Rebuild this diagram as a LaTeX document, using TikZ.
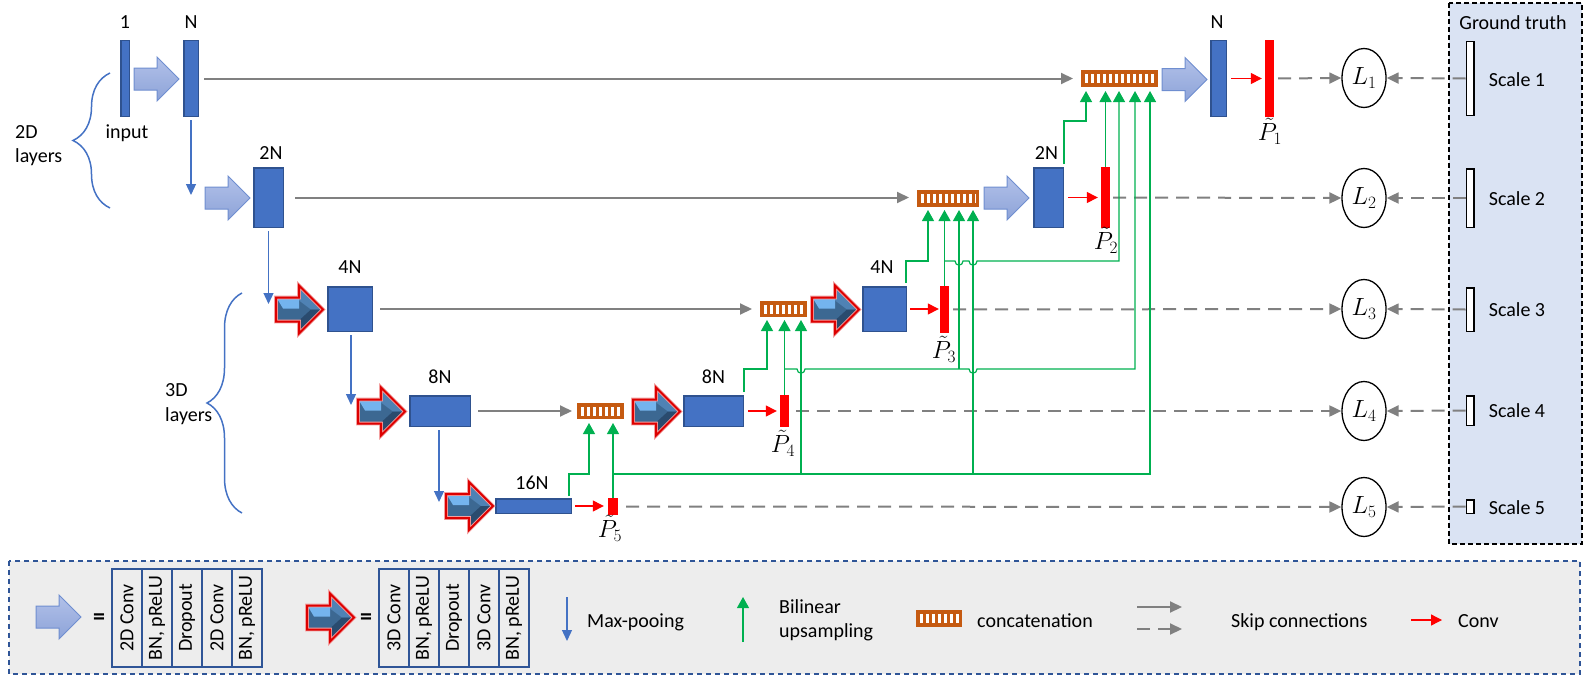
\documentclass[tikz,border=0pt]{standalone}
\usepackage{fontspec}
\setmainfont{Carlito}
\usetikzlibrary{arrows.meta,decorations.pathreplacing,calc,shapes.geometric}
\definecolor{boxblue}{HTML}{4472C4}
\definecolor{boxedge}{HTML}{2F528F}
\definecolor{gline}{HTML}{808080}
\definecolor{grn}{HTML}{00B050}
\definecolor{org}{HTML}{C55A11}
\definecolor{legbg}{HTML}{EDEDED}
\definecolor{legedge}{HTML}{2F5597}
\definecolor{gtbg}{HTML}{DAE3F3}
\definecolor{flattop}{HTML}{B2C1E9}
\definecolor{flatbot}{HTML}{8DA3D8}
\definecolor{flatedge}{HTML}{6F8ED0}
\definecolor{tdlight}{HTML}{74B4EE}
\definecolor{tdmid}{HTML}{4F82B4}
\definecolor{tddark}{HTML}{2A4B6E}
\definecolor{tdbase}{HTML}{3C6892}
\definecolor{tdred}{HTML}{DD0000}
\definecolor{tdglow}{HTML}{F2A0A0}
\tikzset{
  txt/.style={font=\fontsize{20}{24}\selectfont, inner sep=0pt},
  mtxt/.style={font=\fontsize{23}{26}\selectfont, inner sep=0pt},
  bbox/.style={draw=boxedge, fill=boxblue, line width=1.5pt, inner sep=0pt},
  pbar/.style={fill=red, inner sep=0pt},
  ccat/.style={draw=org, fill=org, line width=1.5pt, inner sep=0pt,
    path picture={\draw[white, line width=9pt, dash pattern=on 3pt off 3pt]
      ([xshift=3pt]path picture bounding box.west) -- ([xshift=-2pt]path picture bounding box.east);}},
  lnode/.style={ellipse, draw=black, line width=1.3pt, minimum width=44pt, minimum height=59pt, inner sep=0pt, font=\fontsize{27}{30}\selectfont},
  gtbar/.style={draw=black, fill=white, line width=1.5pt, inner sep=0pt, minimum width=7.5pt},
  skiparr/.style={draw=gline, line width=2pt, -{Triangle[length=12pt,width=11pt]}},
  dskip/.style={skiparr, dash pattern=on 13pt off 8pt},
  redarr/.style={draw=red, line width=1.3pt, -{Triangle[length=11pt,width=11pt]}},
  uparr/.style={draw=grn, line width=1.2pt, -{Triangle[length=11pt,width=12pt]}},
  mparr/.style={draw=boxblue, line width=1.3pt, -{Triangle[length=11pt,width=10pt]}},
  flatarr/.style={draw=flatedge, line width=1pt, top color=flattop, bottom color=flatbot},
  brc/.style={draw=boxblue, line width=1.5pt, decorate, decoration={brace, amplitude=#1}},
  legcell/.style={draw=legedge, line width=1.5pt, rotate=90, minimum width=98pt, minimum height=30pt, inner sep=0pt, font=\fontsize{20}{24}\selectfont},
}
\newcommand{\flatarrow}[2]{%
  \draw[flatarr, shift={(#1,#2)}] (0,-11) -- (23,-11) -- (23,-22) -- (45,0) -- (23,22) -- (23,11) -- (0,11) -- cycle;}
\newcommand{\tdarrow}[2]{%
  \begin{scope}[shift={(#1,#2)}]
    \fill[tdbase] (0,-12) -- (23,-12) -- (23,-24) -- (47,0) -- (23,24) -- (23,12) -- (0,12) -- cycle;
    \fill[tdlight] (1,-11) -- (23,-11) -- (23,-1) -- (7,-1) -- cycle;
    \fill[tdmid] (23,-23) -- (46,0) -- (35,0) -- (23,-9) -- cycle;
    \fill[tddark] (23,23) -- (46,0) -- (35,0) -- (23,11) -- cycle;
    \draw[tdglow, line width=3.6pt, line join=miter] (0,-12) -- (23,-12) -- (23,-24) -- (47,0) -- (23,24) -- (23,12) -- (0,12) -- cycle;
    \draw[tdred, line width=2pt, line join=miter] (0,-12) -- (23,-12) -- (23,-24) -- (47,0) -- (23,24) -- (23,12) -- (0,12) -- cycle;
  \end{scope}}
\begin{document}
\begin{tikzpicture}[x=1pt,y=-1pt]
\useasboundingbox (0,0) rectangle (1589,677);
% ---------- background panels
\draw[draw=black, fill=gtbg, line width=1.5pt, dash pattern=on 5pt off 3pt] (1449,3) rectangle (1582,544);
\draw[draw=legedge, fill=legbg, line width=1.8pt, dash pattern=on 5pt off 4pt] (9,561) rectangle (1580,674);

% ---------- encoder
\node[bbox, minimum width=8.5pt, minimum height=75.5pt] (in1) at (125,78.5) {};
\node[bbox, minimum width=14.5pt, minimum height=75.5pt] (n1) at (191,78.5) {};
\node[bbox, minimum width=29.5pt, minimum height=59.5pt] (n2) at (268.5,197.5) {};
\node[bbox, minimum width=44.5pt, minimum height=44.5pt] (n3) at (350,309) {};
\node[bbox, minimum width=60.5pt, minimum height=30.5pt] (n4) at (440,411) {};
\node[bbox, minimum width=75.5pt, minimum height=14.5pt] (n5) at (533.5,506) {};
% ---------- decoder
\node[bbox, minimum width=59.5pt, minimum height=30.5pt] (d4) at (713.5,411) {};
\node[bbox, minimum width=43.5pt, minimum height=44.5pt] (d3) at (884.5,309) {};
\node[bbox, minimum width=29.5pt, minimum height=59.5pt] (d2) at (1048.5,197.5) {};
\node[bbox, minimum width=15.5pt, minimum height=75.5pt] (d1) at (1218.5,78.5) {};
% ---------- predictions
\node[pbar, minimum width=9pt, minimum height=77pt] (P1) at (1269.5,78.5) {};
\node[pbar, minimum width=9pt, minimum height=61pt] (P2) at (1105.5,197.5) {};
\node[pbar, minimum width=9pt, minimum height=47pt] (P3) at (944.5,309.5) {};
\node[pbar, minimum width=9pt, minimum height=32pt] (P4) at (784.5,411) {};
\node[pbar, minimum width=10pt, minimum height=17pt] (P5) at (613,506.5) {};
% ---------- concatenations
\node[ccat, minimum width=75.5pt, minimum height=15.5pt] (c1) at (1119.5,78.5) {};
\node[ccat, minimum width=60.5pt, minimum height=15.5pt] (c2) at (948,198.5) {};
\node[ccat, minimum width=45.5pt, minimum height=14.5pt] (c3) at (783.5,309) {};
\node[ccat, minimum width=45.5pt, minimum height=14.5pt] (c4) at (600.5,411) {};
% ---------- block arrows
\flatarrow{134}{79}
\flatarrow{205}{198}
\flatarrow{984}{198}
\flatarrow{1162}{79.5}
\tdarrow{276}{309.5}
\tdarrow{358}{411.5}
\tdarrow{446}{506}
\tdarrow{633}{411.5}
\tdarrow{812}{309.5}

% ---------- labels
\node[txt, anchor=base] (l1) at (125,28.5) {1};
\node[txt, anchor=base] (lN) at (191,28.5) {N};
\node[txt, anchor=base] (lin) at (127,138) {input};
\node[txt, anchor=base] (l2N) at (271,159) {2N};
\node[txt, anchor=base] (l4N) at (350,273) {4N};
\node[txt, anchor=base] (l8N) at (440,383) {8N};
\node[txt, anchor=base] (l16N) at (532,489) {16N};
\node[txt, anchor=base] (r8N) at (713.5,383) {8N};
\node[txt, anchor=base] (r4N) at (882,273) {4N};
\node[txt, anchor=base] (r2N) at (1046.5,159) {2N};
\node[txt, anchor=base] (rN) at (1217,28.5) {N};
\node[mtxt] (tP1) at (1270,131) {$\tilde{P}_1$};
\node[mtxt] (tP2) at (1106,240) {$\tilde{P}_2$};
\node[mtxt] (tP3) at (944,349) {$\tilde{P}_3$};
\node[mtxt] (tP4) at (783,443) {$\tilde{P}_4$};
\node[mtxt] (tP5) at (610,528) {$\tilde{P}_5$};
\node[txt, anchor=base west] (t2D) at (15,138) {2D};
\node[txt, anchor=base west] (t2Dl) at (15,162) {layers};
\node[txt, anchor=base west] (t3D) at (165,396) {3D};
\node[txt, anchor=base west] (t3Dl) at (165,421) {layers};
\draw[brc=37pt] (110,208) -- (110,73);
\draw[brc=35pt] (242,513) -- (242,293);

% ---------- losses and ground truth
\node[lnode] (L1) at (1364,78) {$L_1$};
\node[lnode] (L2) at (1364,198) {$L_2$};
\node[lnode] (L3) at (1364,309) {$L_3$};
\node[lnode] (L4) at (1364,411) {$L_4$};
\node[lnode] (L5) at (1364,507) {$L_5$};
\node[txt, anchor=base] (gtt) at (1513,30) {Ground truth};
\node[gtbar, minimum height=73.5pt] (g1) at (1470,78.5) {};
\node[gtbar, minimum height=58.5pt] (g2) at (1470,198) {};
\node[gtbar, minimum height=43.5pt] (g3) at (1470,309.5) {};
\node[gtbar, minimum height=29.5pt] (g4) at (1470,410.5) {};
\node[gtbar, minimum height=13.5pt] (g5) at (1470,506.5) {};
\node[txt, anchor=base] (s1) at (1517,86) {Scale 1};
\node[txt, anchor=base] (s2) at (1517,205) {Scale 2};
\node[txt, anchor=base] (s3) at (1517,316.5) {Scale 3};
\node[txt, anchor=base] (s4) at (1517,417.5) {Scale 4};
\node[txt, anchor=base] (s5) at (1517,514) {Scale 5};

% ---------- max pooling
\coordinate (m1) at (191,195);
\coordinate (m2) at (268.5,304);
\coordinate (m3) at (351,405);
\coordinate (m4) at (439,502);
\draw[mparr, shorten <=3pt] (n1.south) -- (m1);
\draw[mparr, shorten <=3pt] (n2.south) -- (m2);
\draw[mparr, shorten <=3pt] (n3.south -| m3) -- (m3);
\draw[mparr, shorten <=3pt] (n4.south -| m4) -- (m4);

% ---------- skip connections (solid)
\draw[skiparr, shorten <=5pt, shorten >=8pt] (n1.east) -- (n1.east -| c1.west);
\draw[skiparr, shorten <=11pt, shorten >=8pt] (n2.east) -- (n2.east -| c2.west);
\draw[skiparr, shorten <=7pt, shorten >=8pt] (n3.east) -- (n3.east -| c3.west);
\draw[skiparr, shorten <=7pt, shorten >=5pt] (n4.east) -- (n4.east -| c4.west);

% ---------- conv
\draw[redarr, shorten <=4pt, shorten >=3pt] (d1.east) -- (P1.west);
\draw[redarr, shorten <=4pt, shorten >=3pt] (d2.east) -- (P2.west);
\draw[redarr, shorten <=3pt, shorten >=1pt] (d3.east) -- (d3.east -| P3.west);
\draw[redarr, shorten <=4pt, shorten >=3pt] (d4.east) -- (P4.west);
\draw[redarr, shorten <=3pt, shorten >=4pt] (n5.east) -- (n5.east -| P5.west);

% ---------- dashed skip connections to losses
\draw[dskip, shorten <=4pt] (P1.east) -- (L1.west);
\draw[dskip, shorten <=3pt] (P2.east) -- (L2.west);
\draw[dskip, shorten <=4pt] (P3.east) -- (L3.west);
\draw[dskip, shorten <=7pt] (P4.east) -- (L4.west);
\draw[dskip, shorten <=8pt] (P5.east) -- (L5.west);
\draw[dskip] (g1.west) -- (L1.east);
\draw[dskip] (g2.west) -- (L2.east);
\draw[dskip] (g3.west) -- (L3.east);
\draw[dskip] (g4.west) -- (L4.east);
\draw[dskip] (g5.west) -- (L5.east);

% ---------- upsampling (green)
\coordinate (t11) at (1086,91);
\coordinate (t12) at (1105.5,91);
\coordinate (t13) at (1119,91);
\coordinate (t14) at (1135,91);
\coordinate (t15) at (1150,91);
\coordinate (t21) at (928,210);
\coordinate (t22) at (944.5,210);
\coordinate (t23) at (959,210);
\coordinate (t24) at (973,210);
\coordinate (t31) at (767,320);
\coordinate (t32) at (784.5,320);
\coordinate (t33) at (801,320);
\coordinate (t41) at (589,423);
\coordinate (t42) at (613,423);
% from decoder blocks
\draw[uparr] ([yshift=3pt]d2.north east) |- (1086,121) -- (t11);
\draw[uparr] ([xshift=-1pt,yshift=3pt]d3.north east) |- (928,261) -- (t21);
\draw[uparr] ([yshift=3pt]d4.north east) |- (767,369) -- (t31);
\draw[uparr] ([xshift=-3pt,yshift=2pt]n5.north east) |- (589,474) -- (t41);
% from predictions
\draw[uparr] (P2.north) -- (t12);
\draw[uparr] (P3.north) -- (t22);
\draw[uparr] (P4.north) -- (t32);
\draw[uparr] (P5.north) -- (t42);
% horizontal buses with hops
\draw[uparr] (944.5,261) -- (955,261) .. controls (955,266.5) and (963,266.5) .. (963,261)
  -- (969,261) .. controls (969,266.5) and (977,266.5) .. (977,261) -- (1119,261) -- (t13);
\draw[uparr] (784.5,369) -- (797,369) .. controls (797,374.5) and (805,374.5) .. (805,369)
  -- (969,369) .. controls (969,374.5) and (977,374.5) .. (977,369) -- (1135,369) -- (t14);
\draw[uparr] (613,474) -- (1150,474) -- (t15);
\draw[uparr] (959,369) -- (t23);
\draw[uparr] (973,474) -- (t24);
\draw[uparr] (801,474) -- (t33);

% ---------- legend
\flatarrow{36}{617}
\node[txt, font=\fontsize{24}{26}\selectfont\bfseries] (eq1) at (99,619) {=};
\node[legcell] (la1) at (127,618) {2D Conv};
\node[legcell] (la2) at (157,618) {BN, pReLU};
\node[legcell] (la3) at (187,618) {Dropout};
\node[legcell] (la4) at (217,618) {2D Conv};
\node[legcell] (la5) at (247,618) {BN, pReLU};
\tdarrow{307}{617.5}
\node[txt, font=\fontsize{24}{26}\selectfont\bfseries] (eq2) at (366,619) {=};
\node[legcell] (lb1) at (394,618) {3D Conv};
\node[legcell] (lb2) at (424,618) {BN, pReLU};
\node[legcell] (lb3) at (454,618) {Dropout};
\node[legcell] (lb4) at (484,618) {3D Conv};
\node[legcell] (lb5) at (514,618) {BN, pReLU};
\coordinate (lm0) at (567,597);
\coordinate (lm1) at (567,641);
\draw[mparr] (lm0) -- (lm1);
\node[txt, anchor=base west] (lmt) at (587,627) {Max-pooing};
\coordinate (lg0) at (743,642);
\coordinate (lg1) at (743,597);
\draw[uparr] (lg0) -- (lg1);
\node[txt, anchor=base west] (lgt1) at (779,613) {Bilinear};
\node[txt, anchor=base west] (lgt2) at (779,637) {upsampling};
\node[ccat, minimum width=44.5pt, minimum height=15.5pt] (cL) at (939,618.5) {};
\node[txt, anchor=base west] (lct) at (977,627) {concatenation};
\coordinate (ls0) at (1137,607);
\coordinate (ls1) at (1182,607);
\coordinate (ld0) at (1137,629);
\coordinate (ld1) at (1182,629);
\draw[skiparr] (ls0) -- (ls1);
\draw[skiparr, dash pattern=on 13pt off 8pt] (ld0) -- (ld1);
\node[txt, anchor=base west] (lst) at (1231,627) {Skip connections};
\coordinate (lr0) at (1411,620);
\coordinate (lr1) at (1442,620);
\draw[redarr] (lr0) -- (lr1);
\node[txt, anchor=base west] (lrt) at (1458,627) {Conv};
\end{tikzpicture}
\end{document}
